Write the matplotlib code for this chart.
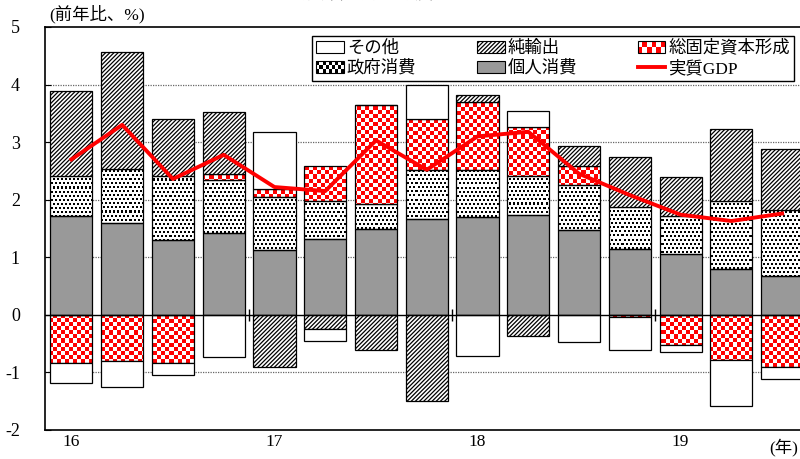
import numpy as np
import matplotlib
matplotlib.use('Agg')
import matplotlib.pyplot as plt
from matplotlib.patches import Rectangle, Patch
from matplotlib.lines import Line2D
from matplotlib.legend_handler import HandlerBase

plt.rcParams['font.family'] = ['Liberation Serif', 'Noto Sans CJK JP']
plt.rcParams['hatch.linewidth'] = 0.9

# data (contributions, % y/y), 2016Q1 - 2019Q3
year_labels = ['16', '17', '18', '19']
personal = [1.71, 1.59, 1.30, 1.42, 1.12, 1.32, 1.49, 1.66, 1.70, 1.73, 1.47, 1.14, 1.06, 0.80, 0.68]
government = [0.71, 0.94, 1.12, 0.92, 0.92, 0.66, 0.43, 0.86, 0.82, 0.68, 0.78, 0.73, 0.65, 1.17, 1.14]
investment = [-0.84, -0.80, -0.83, 0.11, 0.15, 0.61, 1.73, 0.89, 1.18, 0.86, 0.34, -0.04, -0.53, -0.79, -0.90]
net_exports = [1.47, 2.03, 0.98, 1.08, -0.91, -0.25, -0.61, -1.49, 0.11, -0.36, 0.35, 0.88, 0.69, 1.25, 1.06]
other = [-0.35, -0.46, -0.21, -0.73, 0.98, -0.20, 0.0, 0.59, -0.71, 0.27, -0.47, -0.57, -0.12, -0.80, -0.22]
gdp = [2.70, 3.30, 2.36, 2.78, 2.22, 2.15, 3.03, 2.52, 3.10, 3.18, 2.45, 2.08, 1.74, 1.63, 1.76]

x = np.arange(len(gdp))
xlim = (-0.52, 14.45)
ylim = (-2, 5)

fig = plt.figure(figsize=(8, 4.59), dpi=100)
ax = fig.add_axes([0.05625, 0.0632, 0.95, 0.878])

# pixel patterns (one element ~ one screen pixel)
H, W = 403, 760
ii, jj = np.mgrid[0:H, 0:W]
checker = ((ii // 4 + jj // 4) % 2 == 0)
checker_img = np.ones((H, W, 3))
checker_img[checker] = [1.0, 0.0, 0.0]
blk = (ii // 4) % 2
dots = (ii % 4 < 2) & ((jj + 2 * blk) % 4 < 2)
dots_img = np.ones((H, W, 3))
dots_img[dots] = [0.0, 0.0, 0.0]

series = [
    (personal, dict(facecolor='#999999')),
    (government, dict(img=dots_img)),
    (investment, dict(img=checker_img)),
    (net_exports, dict(facecolor='white', hatch='////////')),
    (other, dict(facecolor='white')),
]

width = 0.83
pos = np.zeros(len(x))
neg = np.zeros(len(x))
for vals, st in series:
    vals = np.array(vals)
    bottom = np.where(vals >= 0, pos, neg)
    if 'img' in st:
        bars = ax.bar(x, vals, width, bottom=bottom, facecolor='none',
                      edgecolor='black', linewidth=0.9, zorder=3)
        for b, v in zip(bars, vals):
            if v == 0:
                continue
            im = ax.imshow(st['img'], extent=(xlim[0], xlim[1], ylim[0], ylim[1]),
                           interpolation='nearest', aspect='auto', zorder=2)
            im.set_clip_path(b)
    else:
        ax.bar(x, vals, width, bottom=bottom, facecolor=st['facecolor'],
               hatch=st.get('hatch'), edgecolor='black', linewidth=0.9, zorder=3)
    pos = pos + np.where(vals >= 0, vals, 0)
    neg = neg + np.where(vals < 0, vals, 0)

ax.plot(x, gdp, color='red', lw=2.8, zorder=5)

ax.set_xlim(*xlim)
ax.set_ylim(*ylim)
ax.set_yticks(range(-2, 6))
ax.set_yticklabels([str(v) for v in range(-2, 6)], fontsize=13)
ax.tick_params(axis='y', direction='in', length=4, pad=18)
ax.set_xticks([0, 4, 8, 12])
ax.set_xticklabels(year_labels, fontsize=12.5)
ax.tick_params(axis='x', length=0, pad=3)
for yv in [-1, 1, 2, 3, 4]:
    ax.axhline(yv, color='#666666', lw=0.9, ls=(0, (1, 1)), zorder=1)
ax.axhline(0, color='black', lw=1.0, zorder=4)
ax.vlines([3.5, 7.5, 11.5], -0.1, 0.1, color='black', lw=1.0, zorder=4)
ax.spines['right'].set_visible(False)
for s in ['top', 'bottom', 'left']:
    ax.spines[s].set_linewidth(1.2)

ax.text(0.005, 1.01, '(前年比、%)', transform=ax.transAxes, fontsize=12.5, va='bottom')
ax.text(0.953, -0.02, '(年)', transform=ax.transAxes, fontsize=12.5, va='top')
fig.text(0.52, 1.0, '需要項目別寄与度とGDPの推移', fontsize=13, ha='center', va='baseline')


class PatternHandler(HandlerBase):
    def __init__(self, color, nx, ny, step):
        super().__init__()
        self.color, self.nx, self.ny, self.step = color, nx, ny, step

    def create_artists(self, legend, orig_handle, xdescent, ydescent,
                       width, height, fontsize, trans):
        arts = [Rectangle((-xdescent, -ydescent), width, height,
                          facecolor='white', edgecolor='none', transform=trans)]
        cw, ch = width / self.nx, height / self.ny
        for i in range(self.ny):
            for j in range(self.nx):
                if (i + j) % self.step == 0:
                    arts.append(Rectangle((-xdescent + j * cw, -ydescent + i * ch), cw, ch,
                                          facecolor=self.color, edgecolor='none',
                                          transform=trans))
        arts.append(Rectangle((-xdescent, -ydescent), width, height, facecolor='none',
                              edgecolor='black', lw=0.8, transform=trans))
        return arts


h_other = Patch(facecolor='white', edgecolor='black', lw=0.8)
h_net = Patch(facecolor='white', edgecolor='black', hatch='////////', lw=0.8)
h_inv = Patch(facecolor='red')
h_gov = Patch(facecolor='black')
h_per = Patch(facecolor='#999999', edgecolor='black', lw=0.8)
h_gdp = Line2D([], [], color='red', lw=2.8)

handles = [h_other, h_gov, h_net, h_per, h_inv, h_gdp]
labels = ['その他', '政府消費', '純輸出', '個人消費', '総固定資本形成', '実質GDP']
leg = ax.legend(handles, labels, ncol=3, loc='upper right',
                bbox_to_anchor=(0.997, 1.0), fontsize=12.5,
                handlelength=1.6, handleheight=0.7, handletextpad=0.15,
                columnspacing=3.5, labelspacing=0.2, borderpad=0.25,
                fancybox=False, edgecolor='black', framealpha=1,
                handler_map={h_inv: PatternHandler('red', 6, 2, 2),
                             h_gov: PatternHandler('black', 9, 3, 2)})
leg.get_frame().set_linewidth(1.0)
leg.set_zorder(10)

fig.savefig('out.png', dpi=100)
